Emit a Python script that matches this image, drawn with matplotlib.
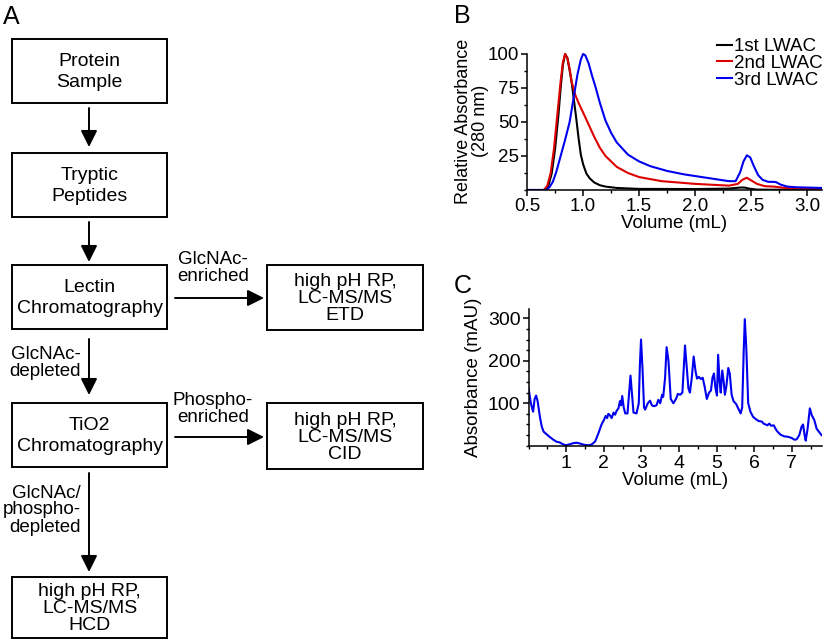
import matplotlib
matplotlib.use('Agg')
import matplotlib.pyplot as plt
from matplotlib.patches import Rectangle
from matplotlib.ticker import MultipleLocator

plt.rcParams['font.family'] = ['Liberation Sans', 'DejaVu Sans']

# ---- panel B: LWAC chromatograms (relative absorbance, 280 nm) ----
b_labels = ['1st LWAC', '2nd LWAC', '3rd LWAC']
b_colors = ['black', '#dd0000', '#0000ee']

lwac1_x = [0.50, 0.66, 0.69, 0.72, 0.75, 0.78, 0.80, 0.82, 0.84, 0.86, 0.88, 0.90, 0.92, 0.94,
           0.96, 0.98, 1.00, 1.03, 1.06, 1.10, 1.15, 1.20, 1.30, 1.50, 2.00, 2.30, 2.40, 2.44,
           2.48, 2.55, 2.70, 3.13]
lwac1_y = [0, 0, 3, 12, 30, 55, 75, 92, 100, 97, 88, 78, 65, 52,
           38, 26, 19, 12, 8.5, 5.5, 3.5, 2.5, 1.5, 0.8, 0.7, 1.0, 1.8, 1.8,
           1.0, 0.3, 0.2, 0.1]

lwac2_x = [0.50, 0.65, 0.68, 0.71, 0.74, 0.77, 0.80, 0.82, 0.84, 0.86, 0.88, 0.90, 0.93, 0.96,
           1.00, 1.05, 1.10, 1.15, 1.20, 1.30, 1.40, 1.50, 1.70, 2.00, 2.30, 2.38, 2.42, 2.46,
           2.50, 2.55, 2.62, 2.70, 2.80, 3.13]
lwac2_y = [0, 0, 3, 12, 30, 55, 80, 94, 100, 97, 89, 79, 70, 64,
           57, 48, 39, 31, 25, 17, 12.5, 9.5, 6.5, 4.5, 3.2, 4.5, 7.5, 9,
           7, 4.5, 2.8, 2.5, 1.5, 0.8]

lwac3_x = [0.50, 0.67, 0.70, 0.73, 0.76, 0.80, 0.84, 0.88, 0.92, 0.95, 0.98, 1.00, 1.02, 1.05,
           1.08, 1.11, 1.15, 1.20, 1.25, 1.30, 1.40, 1.50, 1.60, 1.75, 1.90, 2.10, 2.30, 2.36,
           2.40, 2.43, 2.46, 2.49, 2.52, 2.56, 2.60, 2.65, 2.69, 2.72, 2.76, 2.82, 2.90, 3.13]
lwac3_y = [0, 0, 2, 6, 13, 25, 37, 50, 70, 85, 96, 100, 99, 93,
           84, 76, 64, 51, 42, 35, 26, 21, 17.5, 14, 11.5, 9, 6.5, 6.5,
           13, 21, 25.5, 24, 18, 11, 7.5, 6, 6, 5.8, 4, 2.5, 2, 1.5]

# ---- panel C: high pH RP fractionation (mAU) ----
rp_x = [0.00, 0.06, 0.12, 0.16, 0.20, 0.24, 0.30, 0.35, 0.40, 0.48, 0.57, 0.66, 0.75, 0.82,
        0.90, 0.99, 1.08, 1.19, 1.28, 1.37, 1.48, 1.59, 1.68, 1.77, 1.86, 1.94, 2.00, 2.05,
        2.09, 2.12, 2.16, 2.21, 2.26, 2.30, 2.34, 2.39, 2.43, 2.46, 2.49, 2.53, 2.57, 2.63,
        2.67, 2.71, 2.75, 2.79, 2.87, 2.93, 2.96, 2.99, 3.03, 3.07, 3.10, 3.17, 3.23, 3.28,
        3.33, 3.40, 3.45, 3.50, 3.55, 3.58, 3.63, 3.67, 3.72, 3.78, 3.85, 3.92, 3.97, 4.03,
        4.09, 4.13, 4.16, 4.20, 4.25, 4.29, 4.34, 4.39, 4.44, 4.48, 4.53, 4.58, 4.63, 4.68,
        4.74, 4.80, 4.85, 4.89, 4.93, 4.97, 5.01, 5.04, 5.08, 5.11, 5.15, 5.19, 5.22, 5.26,
        5.31, 5.35, 5.40, 5.45, 5.52, 5.59, 5.64, 5.68, 5.72, 5.75, 5.79, 5.84, 5.90, 5.97,
        6.05, 6.12, 6.20, 6.25, 6.30, 6.35, 6.40, 6.45, 6.52, 6.60, 6.70, 6.80, 6.90, 7.00,
        7.07, 7.13, 7.20, 7.26, 7.30, 7.34, 7.37, 7.42, 7.48, 7.53, 7.60, 7.66, 7.72, 7.79]
rp_y = [135, 100, 80, 110, 118, 105, 68, 45, 33, 27, 20, 14, 9, 8,
        4, 1, 3, 6, 7, 5, 2, 1, 3, 10, 30, 50, 60, 70,
        65, 75, 72, 65, 78, 73, 82, 88, 105, 95, 117, 90, 76, 76,
        120, 165, 120, 78, 76, 100, 190, 250, 180, 90, 85, 100, 106, 95,
        93, 95, 108, 100, 120, 115, 160, 232, 200, 110, 100, 110, 122, 120,
        125, 190, 236, 190, 135, 125, 160, 210, 175, 158, 162, 157, 160, 140,
        110, 125, 130, 160, 170, 135, 118, 214, 150, 125, 177, 150, 120, 140,
        183, 170, 120, 105, 98, 85, 76, 90, 220, 298, 230, 100, 80, 68,
        62, 58, 57, 52, 50, 48, 52, 47, 48, 35, 26, 22, 21, 18,
        14, 15, 25, 45, 50, 25, 12, 40, 88, 72, 60, 40, 33, 25]

W, H = 825, 644
fig = plt.figure(figsize=(W / 100, H / 100), dpi=100)

# ---- panel A: workflow diagram, drawn in pixel coordinates ----
ax0 = fig.add_axes([0, 0, 1, 1])
ax0.set_xlim(0, W)
ax0.set_ylim(H, 0)
ax0.axis('off')

fs_box = 14
boxes = [
    (12, 39, 155, 64, 'Protein\nSample', 1.25),
    (12, 153, 155, 64, 'Tryptic\nPeptides', 1.25),
    (12, 265, 155, 64, 'Lectin\nChromatography', 1.25),
    (267, 265, 156, 65, 'high pH RP,\nLC-MS/MS\nETD', 1.0),
    (12, 403, 155, 64, 'TiO2\nChromatography', 1.25),
    (267, 403, 156, 66, 'high pH RP,\nLC-MS/MS\nCID', 1.0),
    (12, 577, 155, 61, 'high pH RP,\nLC-MS/MS\nHCD', 1.0),
]
for x, y, w, h, txt, ls in boxes:
    ax0.add_patch(Rectangle((x, y), w, h, fill=False, lw=1.4, ec='black'))
    ax0.text(x + w / 2, y + h / 2 + 1, txt, ha='center', va='center',
             fontsize=fs_box, linespacing=ls)

arrow_kw = dict(arrowstyle='-|>,head_length=1.0,head_width=0.5', lw=1.4, color='black',
                shrinkA=0, shrinkB=0, mutation_scale=10)
arrows = [((89, 108), (89, 147)), ((89, 222), (89, 262)), ((89, 339), (89, 395)),
          ((89, 473), (89, 572)), ((175, 298), (264, 298)), ((175, 437), (264, 437))]
for start, end in arrows:
    ax0.annotate('', xy=end, xytext=start, arrowprops=arrow_kw)

ax0.text(213, 268, 'GlcNAc-\nenriched', ha='center', va='center', fontsize=13.5, linespacing=1.0)
ax0.text(213, 409, 'Phospho-\nenriched', ha='center', va='center', fontsize=13.5, linespacing=1.0)
ax0.text(81, 363, 'GlcNAc-\ndepleted', ha='right', va='center', fontsize=13.5, linespacing=1.0)
ax0.text(81, 510, 'GlcNAc/\nphospho-\ndepleted', ha='right', va='center', fontsize=13.5,
         linespacing=1.0)

ax0.text(3, 17, 'A', fontsize=18, ha='left', va='center')
ax0.text(454, 16, 'B', fontsize=18, ha='left', va='center')
ax0.text(454, 286, 'C', fontsize=18, ha='left', va='center')


def style_axes(ax, tick_fs):
    for s in ['top', 'right']:
        ax.spines[s].set_visible(False)
    for s in ['left', 'bottom']:
        ax.spines[s].set_linewidth(1.1)
    ax.tick_params(which='major', direction='out', length=4.3, width=1.1, labelsize=tick_fs)
    ax.tick_params(which='minor', direction='out', length=2.2, width=1.0)
    ax.patch.set_alpha(0)


# ---- panel B ----
b_left, b_right, b_bottom = 527, 822, 190
b_top = b_bottom - 101 * 1.36
axB = fig.add_axes([b_left / W, 1 - b_bottom / H, (b_right - b_left) / W, (b_bottom - b_top) / H])
for xs, ys, lab, col in zip([lwac1_x, lwac2_x, lwac3_x], [lwac1_y, lwac2_y, lwac3_y],
                            b_labels, b_colors):
    axB.plot(xs, ys, color=col, lw=1.5, label=lab)
axB.set_xlim(0.5, 3.13)
axB.set_ylim(0, 101)
axB.set_xticks([0.5, 1.0, 1.5, 2.0, 2.5, 3.0])
axB.set_xticklabels(['0.5', '1.0', '1.5', '2.0', '2.5', '3.0'])
axB.set_yticks([25, 50, 75, 100])
axB.xaxis.set_minor_locator(MultipleLocator(0.25))
axB.yaxis.set_minor_locator(MultipleLocator(12.5))
style_axes(axB, 13.5)
axB.tick_params(axis='y', pad=1.2)
axB.tick_params(axis='x', pad=1.2)
axB.spines['left'].set_bounds(0, 100)
axB.set_xlabel('Volume (mL)', fontsize=13.5, labelpad=0)
axB.set_ylabel('Relative Absorbance\n(280 nm)', fontsize=13, labelpad=-1, linespacing=1.05)
axB.legend(loc='upper right', bbox_to_anchor=(823 / W, 1 - 38 / H), bbox_transform=fig.transFigure,
           frameon=False, fontsize=13.5, handlelength=0.8, handletextpad=0.15,
           labelspacing=-0.02, borderpad=0, borderaxespad=0)

# ---- panel C ----
c_left, c_bottom = 528.6, 445.7
c_right = c_left + 7.8 * 37.6
c_top = c_bottom - 322 * 0.4247
axC = fig.add_axes([c_left / W, 1 - c_bottom / H, (c_right - c_left) / W, (c_bottom - c_top) / H])
axC.plot(rp_x, rp_y, color='#0000ee', lw=1.5)
axC.set_xlim(0, 7.8)
axC.set_ylim(0, 322)
axC.set_xticks([1, 2, 3, 4, 5, 6, 7])
axC.set_yticks([100, 200, 300])
axC.xaxis.set_minor_locator(MultipleLocator(0.5))
axC.yaxis.set_minor_locator(MultipleLocator(25))
style_axes(axC, 14)
axC.tick_params(axis='x', pad=2.5)
axC.tick_params(axis='y', pad=1.5)
axC.set_xlabel('Volume (mL)', fontsize=13.5, labelpad=0)
axC.set_ylabel('Absorbance (mAU)', fontsize=13.5, labelpad=4)

fig.savefig('out.png', dpi=100)
